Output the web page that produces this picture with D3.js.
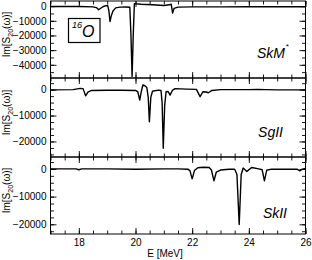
<!DOCTYPE html>
<html><head><meta charset="utf-8">
<script src="https://cdn.jsdelivr.net/npm/d3@7"></script>
<style>
body{margin:0;background:#fff;}
svg text{font-family:"Liberation Sans",Arial,Helvetica,sans-serif;}
</style></head>
<body><svg id="c" width="312" height="260"></svg>
<script>
// ---- data ----
const panelNames = ["SkM*", "SgII", "SkII"];
const xTickLabels = [18, 20, 22, 24, 26];

const skmE = [17.0,18.0,18.5,18.62,18.7,18.76,18.85,18.95,19.02,19.06,19.1,19.14,19.2,19.3,19.45,19.65,19.8,19.84,19.88,19.92,19.96,20.2,20.6,21.0,21.2,21.26,21.31,21.36,21.5,22.0,23.0,24.0,25.0,26.0];
const skmV = [-300,-300,-500,-1000,-2500,-1600,-400,300,400,-3000,-10500,-7000,-3500,-1200,-700,-600,-800,-20000,-48000,-20000,1700,1300,900,400,900,1300,-4800,-1500,-700,-500,-500,-450,-450,-450];

const sgE = [17.0,17.8,18.05,18.15,18.24,18.32,18.45,19.0,19.5,20.0,20.08,20.15,20.2,20.26,20.33,20.4,20.45,20.49,20.54,20.6,20.8,20.9,20.94,20.98,21.03,21.08,21.15,21.22,21.3,21.4,21.8,22.15,22.28,22.38,22.5,22.57,22.7,23.0,24.0,24.3,24.6,25.0,26.0];
const sgV = [-100,0,500,400,-2400,-1000,-300,-250,-250,-300,-800,-4000,-1000,1800,1500,800,-3000,-12400,-3000,-600,-200,-300,-5000,-22600,-6000,-800,-700,-2100,-300,400,200,100,-2700,-800,-900,-1200,-300,0,0,100,0,-100,-100];

const skE = [17.0,17.9,18.0,18.1,19.0,20.0,21.0,21.5,21.85,21.92,22.0,22.08,22.2,22.4,22.6,22.68,22.77,22.85,23.0,23.3,23.5,23.58,23.66,23.73,23.8,23.93,24.1,24.35,24.47,24.55,24.63,24.8,25.2,25.7,25.8,25.87,26.0];
const skV = [0,0,-300,0,0,-100,0,0,-100,-600,-3600,-600,400,600,500,-400,-4300,-1200,-400,-100,-100,-2000,-20100,-2000,300,-900,500,0,-300,-4300,-500,-100,-100,-100,-700,-200,200];

const yDomains = [[-49000,3500],[-26000,4500],[-23500,4300]];
const yMajor = [[0,-10000,-20000,-30000,-40000],[0,-10000,-20000],[0,-10000,-20000]];
const yMinorStep = [5000,2500,2500];

// ---- layout ----
const svg = d3.select("#c");
const left = 50.5, right = 305.5;
const bands = [[1,78],[78,157],[157,234]];
const x = d3.scaleLinear().domain([17,26]).range([left,right]);
const series = [[skmE,skmV],[sgE,sgV],[skE,skV]];

const xMinor = d3.range(17,26.001,0.5);

series.forEach((s,i)=>{
  const [top,bot] = bands[i];
  const y = d3.scaleLinear().domain(yDomains[i]).range([bot,top]);
  const g = svg.append("g");
  const d = yDomains[i];
  const minor = d3.range(Math.ceil(d[0]/yMinorStep[i])*yMinorStep[i], d[1], yMinorStep[i]);

  g.append("g").attr("transform",`translate(0,${bot})`)
    .call(d3.axisBottom(x).tickValues(xMinor).tickSize(-3.5).tickFormat(""));
  g.append("g").attr("transform",`translate(0,${bot})`)
    .call(d3.axisBottom(x).tickValues(xTickLabels).tickSize(-6).tickPadding(5)
      .tickFormat(i===2 ? d3.format("d") : ""));
  g.append("g").attr("transform",`translate(0,${top})`)
    .call(d3.axisTop(x).tickValues(xMinor).tickSize(-3.5).tickFormat(""));
  g.append("g").attr("transform",`translate(0,${top})`)
    .call(d3.axisTop(x).tickValues(xTickLabels).tickSize(-6).tickFormat(""));
  g.append("g").attr("transform",`translate(${left},0)`)
    .call(d3.axisLeft(y).tickValues(minor).tickSize(-3.5).tickFormat(""));
  g.append("g").attr("transform",`translate(${left},0)`)
    .call(d3.axisLeft(y).tickValues(yMajor[i]).tickSize(-6).tickPadding(4).tickFormat(d3.format("d")));
  g.append("g").attr("transform",`translate(${right},0)`)
    .call(d3.axisRight(y).tickValues(minor).tickSize(-3.5).tickFormat(""));
  g.append("g").attr("transform",`translate(${right},0)`)
    .call(d3.axisRight(y).tickValues(yMajor[i]).tickSize(-6).tickFormat(""));
  g.selectAll(".domain").remove();
  g.selectAll(".tick line").attr("stroke","#000").attr("stroke-width",0.9);
  g.selectAll(".tick text").attr("font-size","10px").attr("fill","#000");

  g.append("rect").attr("x",left).attr("y",top).attr("width",right-left).attr("height",bot-top)
    .attr("fill","none").attr("stroke","#000").attr("stroke-width",1);

  const pts = s[0].map((e,k)=>[e,s[1][k]]);
  g.append("path").datum(pts)
    .attr("d", d3.line().x(p=>x(p[0])).y(p=>y(p[1])))
    .attr("fill","none").attr("stroke","#000").attr("stroke-width",1.4)
    .attr("stroke-linejoin","round");

  const cy = (top+bot)/2 - 5;
  const yt = svg.append("text").attr("transform",`translate(10,${cy}) rotate(-90)`)
    .attr("text-anchor","middle").attr("font-size","10px").attr("fill","#000");
  yt.append("tspan").text("Im[S");
  yt.append("tspan").attr("font-size","7px").attr("dy","2.5").text("20");
  yt.append("tspan").attr("dy","-2.5").text("(ω)]");
});

const lbl = [[285,58],[283,136.5],[287,217.5]];
panelNames.forEach((n,i)=>{
  const t = svg.append("text").attr("x",lbl[i][0]).attr("y",lbl[i][1])
    .attr("text-anchor","end").attr("font-size","14px").attr("font-style","italic").attr("fill","#000");
  if(n.endsWith("*")){
    t.text(n.slice(0,-1));
    svg.append("text").attr("x",lbl[i][0]+0.5).attr("y",lbl[i][1]-9)
      .attr("font-size","8px").attr("font-style","italic").text("*");
  } else t.text(n);
});

svg.append("rect").attr("x",68.5).attr("y",18.5).attr("width",31.5).attr("height",24)
  .attr("fill","none").attr("stroke","#000").attr("stroke-width",1.2);
svg.append("text").attr("x",72).attr("y",28).attr("font-size","9px").attr("font-style","italic").text("16");
svg.append("text").attr("x",82).attr("y",36.5).attr("font-size","16px").attr("font-style","italic").text("O");

svg.append("text").attr("x",165).attr("y",257).attr("text-anchor","middle")
  .attr("font-size","10px").text("E [MeV]");
</script></body></html>
